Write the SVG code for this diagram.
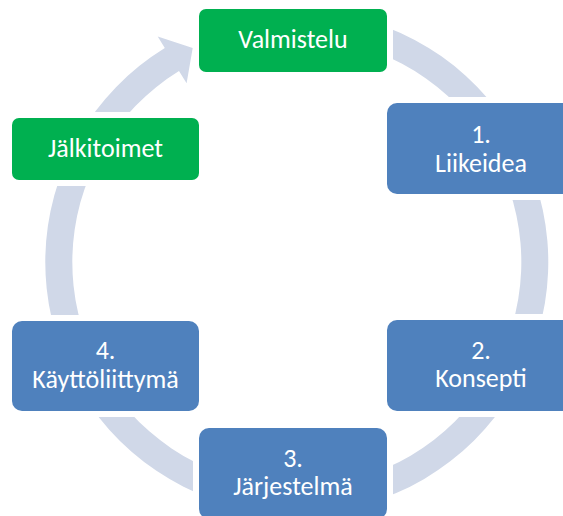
<svg xmlns="http://www.w3.org/2000/svg" width="563" height="516" viewBox="0 0 563 516">
  <style>
    .ring { fill: #D0D8E8; }
    .halo { fill: #FFFFFF; }
    .green { fill: #00B050; }
    .blue { fill: #4F81BD; }
    .label { fill: #FFFFFF; font-family: Calibri, Carlito, "Liberation Sans", Arial, sans-serif; font-size: 26px; text-anchor: middle; }
  </style>

  <!-- circular cycle arrow running clockwise, ending at the top-left arrowhead -->
  <g id="connectors">
    <path class="ring" d="M 231.9 19.1 A 251.5 251.5 0 1 1 164.8 48.0 L 157.7 36.5 L 192.7 48.1 L 186.6 83.3 L 179.0 71.0 A 224.5 224.5 0 1 0 238.9 45.2 Z"/>
  </g>

  <g id="valmistelu">
    <rect class="halo" x="193" y="3" width="200" height="75" rx="12"/>
    <rect class="green" x="199" y="9" width="188" height="63" rx="7"/>
    <text class="label" x="293" y="48">Valmistelu</text>
  </g>

  <g id="liikeidea">
    <rect class="halo" x="381" y="97" width="200" height="103" rx="15"/>
    <rect class="blue" x="387" y="103" width="188" height="91" rx="10"/>
    <text class="label" x="481" y="143">1.</text>
    <text class="label" x="481" y="172">Liikeidea</text>
  </g>

  <g id="konsepti">
    <rect class="halo" x="381" y="314" width="200" height="103" rx="15"/>
    <rect class="blue" x="387" y="320" width="188" height="91" rx="10"/>
    <text class="label" x="481" y="359">2.</text>
    <text class="label" x="481" y="387">Konsepti</text>
  </g>

  <g id="jarjestelma">
    <rect class="halo" x="193" y="422" width="200" height="103" rx="15"/>
    <rect class="blue" x="199" y="428" width="188" height="91" rx="10"/>
    <text class="label" x="293" y="467">3.</text>
    <text class="label" x="293" y="495">Järjestelmä</text>
  </g>

  <g id="kayttoliittyma">
    <rect class="halo" x="6" y="315" width="199" height="102" rx="15"/>
    <rect class="blue" x="12" y="321" width="187" height="90" rx="10"/>
    <text class="label" x="105.5" y="359">4.</text>
    <text class="label" x="105.5" y="388">Käyttöliittymä</text>
  </g>

  <g id="jalkitoimet">
    <rect class="halo" x="6" y="112" width="199" height="74" rx="12"/>
    <rect class="green" x="12" y="118" width="187" height="62" rx="7"/>
    <text class="label" x="105.5" y="157">Jälkitoimet</text>
  </g>
</svg>
